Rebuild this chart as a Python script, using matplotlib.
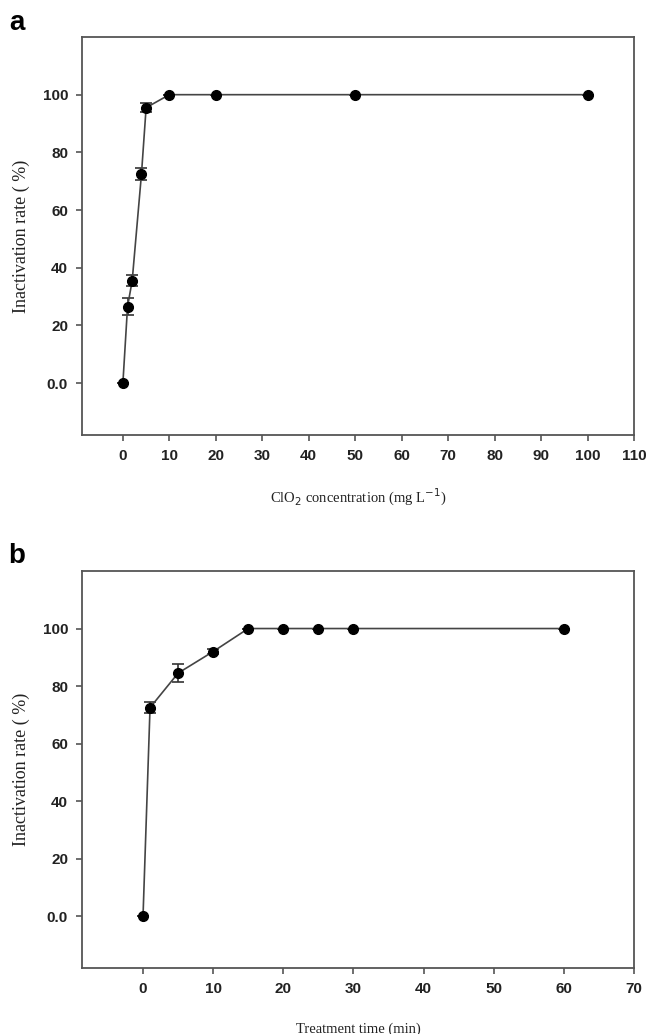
import matplotlib
matplotlib.use("Agg")
from matplotlib import pyplot as plt

# panel a: ClO2 concentration
conc = [0, 1, 2, 4, 5, 10, 20, 50, 100]
rate_a = [0, 26.5, 35.5, 72.5, 95.5, 100, 100, 100, 100]
err_a = [0, 3, 2, 2, 1.5, 0, 0, 0, 0]

# panel b: treatment time
time_min = [0, 1, 5, 10, 15, 20, 25, 30, 60]
rate_b = [0, 72.5, 84.5, 92, 100, 100, 100, 100, 100]
err_b = [0, 2, 3, 1, 0, 0, 0, 0, 0]

yticks = [0, 20, 40, 60, 80, 100]
ytick_labels = ["0.0", "20", "40", "60", "80", "100"]
xticks_a = list(range(0, 111, 10))
xticks_b = list(range(0, 71, 10))

W, H = 647, 1034
fig = plt.figure(figsize=(W / 100, H / 100), dpi=100)

def panel(rect, x, y, err, xlim, xticks, xlabel, letter, letter_xy, lpad):
    ax = fig.add_axes(rect)
    ax.errorbar(x, y, yerr=err, color="#444444", lw=1.2, marker="o", ms=7,
                mfc="black", mec="black", ecolor="#333333", elinewidth=1.2,
                capsize=4, capthick=1.2, zorder=3)
    ax.set_xlim(*xlim)
    ax.set_ylim(-18, 120)
    ax.set_xticks(xticks)
    ax.set_yticks(yticks)
    ax.set_yticklabels(ytick_labels)
    for s in ax.spines.values():
        s.set_color("#555555")
        s.set_linewidth(1.3)
    ax.tick_params(direction="out", length=4, width=1.2, color="#555555",
                   labelsize=11, pad=6, top=False, right=False)
    for lab in ax.get_xticklabels() + ax.get_yticklabels():
        lab.set_fontfamily("Liberation Sans")
        lab.set_fontweight("bold")
        lab.set_color("#222222")
    ax.set_xlabel(xlabel, fontfamily="Liberation Serif", fontsize=10.5,
                  labelpad=lpad, color="#222222")
    ax.set_ylabel("Inactivation rate ( %)", fontfamily="Liberation Serif",
                  fontsize=13, labelpad=9, color="#222222")
    fig.text(letter_xy[0] / W, 1 - letter_xy[1] / H, letter, fontsize=20,
             fontweight="bold", fontfamily="Liberation Sans",
             ha="center", va="center")
    return ax

def rect(l, r, t, b):
    return [l / W, 1 - b / H, (r - l) / W, (b - t) / H]

panel(rect(82, 634, 37, 435), conc, rate_a, err_a, (-8.8, 110), xticks_a,
      r"ClO$_2$ concentration (mg L$^{-1}$)", "a", (17, 23), 17)
panel(rect(82, 634, 571, 968), time_min, rate_b, err_b, (-8.7, 70), xticks_b,
      "Treatment time (min)", "b", (17, 556), 19)

fig.savefig("out.png", dpi=100)
